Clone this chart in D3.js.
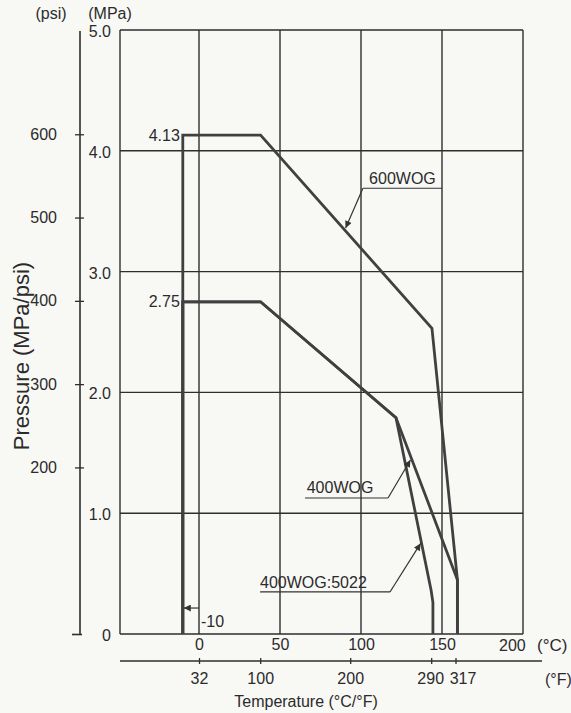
<!DOCTYPE html>
<html><head><meta charset="utf-8">
<script src="https://cdn.jsdelivr.net/npm/d3@7"></script>
<style>
body{margin:0;background:#f8f8f5}
text{font-family:"Liberation Sans",Arial,Helvetica,sans-serif;fill:#2b2b2b}
</style>
</head><body><svg id="c" width="571" height="713"></svg>
<script>
// ---------- data ----------
const mpaTicks = [0, 1.0, 2.0, 3.0, 4.0, 5.0];
const mpaTickLabels = ["0", "1.0", "2.0", "3.0", "4.0", "5.0"];
const psiTicks = [0, 200, 300, 400, 500, 600];
const psiTickLabels = ["", "200", "300", "400", "500", "600"];
const celsiusTicks = [0, 50, 100, 150];
const celsiusTickLabels = ["0", "50", "100", "150"];
const fahrenheitTicks = [32, 100, 200, 290, 317];
const fahrenheitTickLabels = ["32", "100", "200", "290", "317"];
const seriesNames = ["600WOG", "400WOG", "400WOG:5022"];
// [temperature °C, pressure MPa]
const wog600 = [[-10, 0], [-10, 4.13], [38, 4.13], [143.8, 2.53], [159.5, 0.45], [159.5, 0]];
const wog400 = [[-10, 0], [-10, 2.75], [38, 2.75], [121.6, 1.79], [159.5, 0.45], [159.5, 0]];
const wog400_5022 = [[-10, 0], [-10, 2.75], [38, 2.75], [121.6, 1.79], [143.3, 0.36], [144.4, 0.26], [144.4, 0]];
const valueLabels = ["4.13", "2.75"];
const valueLabelValues = [4.13, 2.75];
const minTempLabel = "-10";
const minTemp = -10;

// ---------- layout ----------
const svg = d3.select("#c");
const ink = "#2e2e2e", curveInk = "#404040";
const fs = 16;
const x = d3.scaleLinear().domain([0, 200]).range([199, 523]);
const y = d3.scaleLinear().domain([0, 5]).range([634, 30]);
const frameLeft = 120;
const psi = d3.scaleLinear().domain([0, 5 / 0.00689476]).range([634, 30]);
const fx = d3.scaleLinear().domain([32, 392]).range([x(0), x(200)]);

svg.append("defs").append("marker")
  .attr("id", "arr").attr("viewBox", "0 0 10 10").attr("refX", 10).attr("refY", 5)
  .attr("markerWidth", 9).attr("markerHeight", 7).attr("markerUnits", "userSpaceOnUse")
  .attr("orient", "auto")
  .append("path").attr("d", "M0,0 L10,5 L0,10 z").attr("fill", "#333");

// grid + frame
const g = svg.append("g");
g.selectAll("line.h").data(mpaTicks).join("line")
  .attr("x1", frameLeft).attr("x2", x(200)).attr("y1", d => y(d)).attr("y2", d => y(d))
  .attr("stroke", ink).attr("stroke-width", 1.4);
g.selectAll("line.v").data(celsiusTicks.concat([200])).join("line")
  .attr("x1", d => x(d)).attr("x2", d => x(d)).attr("y1", y(0)).attr("y2", y(5))
  .attr("stroke", ink).attr("stroke-width", 1.4);
g.append("line").attr("x1", frameLeft).attr("x2", frameLeft).attr("y1", y(0)).attr("y2", y(5))
  .attr("stroke", ink).attr("stroke-width", 1.4);

// MPa labels
const ax = svg.append("g").attr("transform", "translate(111,0)")
  .call(d3.axisLeft(y).tickValues(mpaTicks).tickSize(0).tickPadding(0)
    .tickFormat((d, i) => mpaTickLabels[i]));
ax.select(".domain").remove();
ax.selectAll("text").attr("font-size", fs).attr("fill", "#333").attr("dy", "0.4em")
  .attr("font-family", null);

// psi axis
const pa = svg.append("g").attr("transform", "translate(80,0)")
  .call(d3.axisLeft(psi).tickValues(psiTicks).tickSize(5).tickPadding(18)
    .tickFormat((d, i) => psiTickLabels[i]));
pa.select(".domain").remove();
pa.append("line").attr("x1", 0).attr("x2", 0).attr("y1", 31).attr("y2", y(0))
  .attr("stroke", ink).attr("stroke-width", 1.6);
pa.selectAll(".tick line").attr("x1", 4).attr("x2", -5).attr("stroke", ink).attr("stroke-width", 1.3);
pa.selectAll(".tick").filter(d => d === 0).select("line").attr("x1", 2).attr("x2", -8).attr("stroke-width", 1.6);
pa.selectAll("text").attr("font-size", fs).attr("fill", "#333").attr("font-family", null);

svg.append("text").attr("x", 51).attr("y", 19).attr("text-anchor", "middle").attr("font-size", fs).text("(psi)");
svg.append("text").attr("x", 110).attr("y", 19).attr("text-anchor", "middle").attr("font-size", fs).text("(MPa)");
svg.append("text").attr("transform", "translate(29,356) rotate(-90)").attr("text-anchor", "middle")
  .attr("font-size", 22).text("Pressure (MPa/psi)");

// °C axis labels
const cx = svg.append("g").attr("transform", `translate(0,${y(0)})`)
  .call(d3.axisBottom(x).tickValues(celsiusTicks).tickSize(0).tickPadding(5)
    .tickFormat((d, i) => celsiusTickLabels[i]));
cx.select(".domain").remove();
cx.selectAll("text").attr("font-size", fs).attr("fill", "#333").attr("font-family", null);
svg.append("text").attr("x", 499).attr("y", 651).attr("font-size", fs).text("200");
svg.append("text").attr("x", 537).attr("y", 651).attr("font-size", 17).text("(°C)");

// °F axis
const fa = svg.append("g").attr("transform", "translate(0,661)")
  .call(d3.axisBottom(fx).tickValues(fahrenheitTicks).tickSize(3).tickPadding(9)
    .tickFormat((d, i) => fahrenheitTickLabels[i]));
fa.select(".domain").remove();
fa.append("line").attr("x1", frameLeft).attr("x2", 542).attr("stroke", ink).attr("stroke-width", 1.4);
fa.selectAll(".tick line").attr("y1", -3).attr("y2", 3).attr("stroke", ink).attr("stroke-width", 1.3);
fa.selectAll("text").attr("font-size", fs).attr("fill", "#333").attr("font-family", null)
  .attr("dx", d => d === 317 ? 7 : (d === 290 ? -1 : 0));
svg.append("text").attr("x", 545).attr("y", 685).attr("font-size", fs).text("(°F)");
svg.append("text").attr("x", 306).attr("y", 707).attr("text-anchor", "middle").attr("font-size", 16)
  .text("Temperature (°C/°F)");

// curves
const line = d3.line().x(d => x(d[0])).y(d => y(d[1]));
svg.selectAll("path.curve").data([wog600, wog400, wog400_5022]).join("path")
  .attr("d", line).attr("fill", "none").attr("stroke", curveInk).attr("stroke-width", 2.8)
  .attr("stroke-linejoin", "miter");

// value labels
svg.selectAll("text.val").data(valueLabelValues).join("text")
  .attr("x", x(minTemp) - 3).attr("y", d => y(d)).attr("dy", "0.35em")
  .attr("text-anchor", "end").attr("font-size", fs).text((d, i) => valueLabels[i]);

// -10 marker
svg.append("line").attr("x1", x(0)).attr("x2", x(minTemp) + 1).attr("y1", y(0.215)).attr("y2", y(0.215))
  .attr("stroke", "#333").attr("stroke-width", 1.2).attr("marker-end", "url(#arr)");
svg.append("text").attr("x", x(0) + 2).attr("y", y(0.108)).attr("dy", "0.35em").attr("font-size", fs).text(minTempLabel);

// series annotations: text start (°C, MPa), underline from/to °C at MPa, arrow tip
const notes = [
  {name: seriesNames[0], tx: 105, ty: 3.775, ux0: 101.2, ux1: 150, uy: 3.69, tip: [90.5, 3.36]},
  {name: seriesNames[1], tx: 66.5, ty: 1.217, ux0: 65.4, ux1: 116.7, uy: 1.126, tip: [130.5, 1.44]},
  {name: seriesNames[2], tx: 37.7, ty: 0.43, ux0: 37.7, ux1: 117.9, uy: 0.348, tip: [136.8, 0.75]}
];
notes.forEach(n => {
  svg.append("text").attr("x", x(n.tx)).attr("y", y(n.ty)).attr("dy", "0.35em")
    .attr("font-size", fs).text(n.name);
  svg.append("path")
    .attr("d", `M${x(n.ux0)},${y(n.uy)} L${x(n.ux1)},${y(n.uy)}`)
    .attr("stroke", "#333").attr("stroke-width", 1.2).attr("fill", "none");
  const sx = n.name === seriesNames[0] ? x(n.ux0) : x(n.ux1);
  svg.append("line").attr("x1", sx).attr("y1", y(n.uy)).attr("x2", x(n.tip[0])).attr("y2", y(n.tip[1]))
    .attr("stroke", "#333").attr("stroke-width", 1.2).attr("marker-end", "url(#arr)");
});
</script>
</body></html>
